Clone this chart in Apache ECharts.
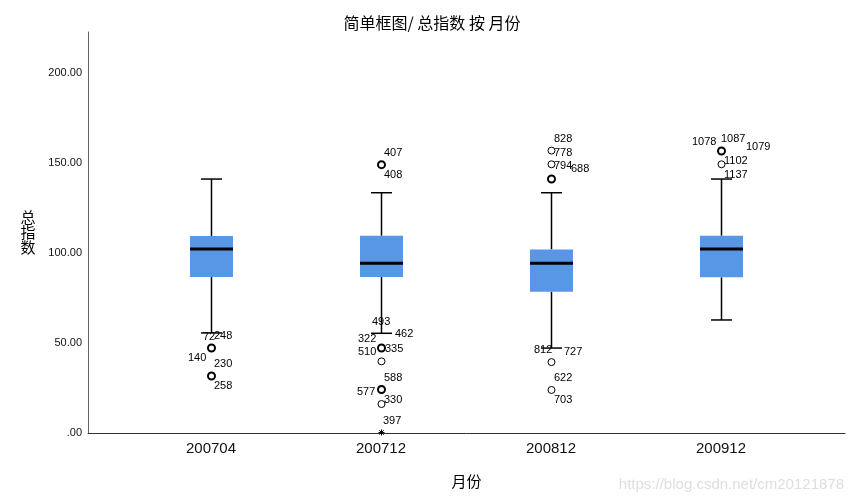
<!DOCTYPE html>
<html>
<head>
<meta charset="utf-8">
<script src="https://cdn.jsdelivr.net/npm/echarts@6/dist/echarts.min.js"></script>
<style>html,body{margin:0;padding:0;background:#fff}#c{width:854px;height:504px}</style>
</head>
<body>
<div id="c"></div>
<script>
// ---- data ----
const categories = ['200704', '200712', '200812', '200912'];
const lowWhisker = [55.6, 55.4, 47.2, 62.8];
const q1 = [86.7, 86.7, 78.5, 86.5];
const median = [102.2, 94.3, 94.3, 102.2];
const q3 = [109.5, 109.6, 102.0, 109.6];
const highWhisker = [141.1, 133.5, 133.5, 141.1];
// outliers: [category index, value, multiple cases (1) or single (0)]
const outliers = [
  [0, 47.2, 1], [0, 31.7, 1],
  [1, 149.1, 1], [1, 47.2, 1], [1, 39.8, 0], [1, 24.2, 1], [1, 16.1, 0],
  [2, 156.9, 0], [2, 149.3, 0], [2, 141.1, 1], [2, 39.4, 0], [2, 23.9, 0],
  [3, 156.7, 1], [3, 149.3, 0]
];
// extreme values (asterisk)
const extremes = [[1, 0.3]];
// case labels: anchor category, anchor value, text
const labelCats = [0,0,0,0,0, 1,1,1,1,1,1,1,1,1,1,1, 2,2,2,2,2,2,2,2, 3,3,3,3,3];
const labelValues = [55.6,55.6,47.2,47.2,31.7, 149.1,149.1,55.4,55.4,47.2,47.2,47.2,24.2,24.2,16.1,0.3,
  156.9,156.9,149.3,149.3,47.2,47.2,39.4,23.9, 156.7,156.7,156.7,149.3,149.3];
const labelTexts = ['72','248','140','230','258', '407','408','493','462','322','335','510','588','577','330','397',
  '828','778','794','688','812','727','622','703', '1078','1087','1079','1102','1137'];
const yTicks = [0, 50, 100, 150, 200];

// ---- layout (pixel offsets of case labels) ----
const labelOffsets = [[-8,4],[3,3],[-23,10],[3,16],[3,10],
  [3,-12],[3,10],[-9,-11],[14,1],[-23,-9],[4,1],[-23,4],[3,-11],[-24,3],[3,-4],[2,-11],
  [3,-12],[3,2],[3,2],[20,5],[-17,2],[13,4],[3,16],[3,10],
  [-29,-9],[0,-12],[25,-4],[3,-3],[3,11]];

const chart = echarts.init(document.getElementById('c'), null, {renderer: 'canvas'});
const FONT = 'Liberation Sans, Arial, sans-serif';
const CJK = 'Noto Sans CJK SC, sans-serif';
const BOX_COLOR = '#5897e5';

const boxData = categories.map((c, i) => [i, lowWhisker[i], q1[i], median[i], q3[i], highWhisker[i]]);

const option = {
  animation: false,
  backgroundColor: '#fff',
  title: {
    text: '简单框图/ 总指数 按 月份',
    left: 427, top: 10, textAlign: 'center',
    textStyle: {fontFamily: CJK, fontSize: 16, fontWeight: 'normal', color: '#000'}
  },
  grid: {left: 88, right: 9, top: 32, bottom: 71},
  xAxis: {
    type: 'value', min: -0.7235, max: 3.7294,
    splitLine: {show: false},
    axisLine: {show: true, onZero: false, lineStyle: {color: '#333', width: 1}},
    axisTick: {show: false},
    axisLabel: {customValues: [0, 1, 2, 3], formatter: v => categories[Math.round(v)], fontFamily: FONT, fontSize: 15, color: '#111', margin: 8},
    name: '月份', nameLocation: 'middle', nameGap: 41,
    nameTextStyle: {fontFamily: CJK, fontSize: 15, color: '#000'}
  },
  yAxis: {
    type: 'value', min: 0, max: 222.8,
    splitLine: {show: false},
    axisLine: {show: true, onZero: false, lineStyle: {color: '#666', width: 1}},
    axisTick: {show: false},
    axisLabel: {customValues: yTicks, formatter: v => v === 0 ? '.00' : v.toFixed(2), fontFamily: FONT, fontSize: 11, color: '#111', margin: 6},
    name: '总\n指\n数', nameLocation: 'middle', nameRotate: 0, nameGap: 60,
    nameTextStyle: {fontFamily: CJK, fontSize: 15, color: '#000', align: 'center', verticalAlign: 'middle', lineHeight: 15}
  },
  graphic: [{
    type: 'text', right: 10, top: 477,
    style: {text: 'https://blog.csdn.net/cm20121878', fontFamily: FONT, fontSize: 15, fill: '#dedede'}
  }],
  series: [
    {
      type: 'custom',
      data: boxData,
      renderItem: function (params, api) {
        const i = api.value(0);
        const pLow = api.coord([i, api.value(1)]);
        const pQ1 = api.coord([i, api.value(2)]);
        const pMed = api.coord([i, api.value(3)]);
        const pQ3 = api.coord([i, api.value(4)]);
        const pHigh = api.coord([i, api.value(5)]);
        const cx = Math.round(pQ1[0]) + 0.5;
        const bw = 43, cw = 21;
        const ls = {stroke: '#000', lineWidth: 1.5};
        return {
          type: 'group',
          children: [
            {type: 'line', shape: {x1: cx, y1: pLow[1], x2: cx, y2: pQ1[1]}, style: ls},
            {type: 'line', shape: {x1: cx, y1: pQ3[1], x2: cx, y2: pHigh[1]}, style: ls},
            {type: 'line', shape: {x1: cx - cw / 2, y1: pLow[1], x2: cx + cw / 2, y2: pLow[1]}, style: ls},
            {type: 'line', shape: {x1: cx - cw / 2, y1: pHigh[1], x2: cx + cw / 2, y2: pHigh[1]}, style: ls},
            {type: 'rect', shape: {x: cx - bw / 2, y: pQ3[1], width: bw, height: pQ1[1] - pQ3[1]}, style: {fill: BOX_COLOR, stroke: null}},
            {type: 'line', shape: {x1: cx - bw / 2, y1: pMed[1], x2: cx + bw / 2, y2: pMed[1]}, style: {stroke: '#000', lineWidth: 3}}
          ]
        };
      }
    },
    {
      type: 'custom',
      data: outliers,
      renderItem: function (params, api) {
        const p = api.coord([api.value(0), api.value(1)]);
        const bold = api.value(2) === 1;
        return {type: 'circle', shape: {cx: p[0] + 0.5, cy: p[1], r: 3.5}, style: {fill: '#fff', stroke: '#000', lineWidth: bold ? 2 : 1}};
      }
    },
    {
      type: 'custom',
      data: extremes,
      renderItem: function (params, api) {
        const p = api.coord([api.value(0), api.value(1)]);
        const x = p[0] + 0.5, y = p[1], r = 3;
        const st = {stroke: '#000', lineWidth: 1};
        return {type: 'group', children: [
          {type: 'line', shape: {x1: x - r, y1: y, x2: x + r, y2: y}, style: st},
          {type: 'line', shape: {x1: x, y1: y - r, x2: x, y2: y + r}, style: st},
          {type: 'line', shape: {x1: x - 2.2, y1: y - 2.2, x2: x + 2.2, y2: y + 2.2}, style: st},
          {type: 'line', shape: {x1: x - 2.2, y1: y + 2.2, x2: x + 2.2, y2: y - 2.2}, style: st}
        ]};
      }
    },
    {
      type: 'custom',
      data: labelCats.map((c, k) => [c, labelValues[k]]),
      renderItem: function (params, api) {
        const k = params.dataIndex;
        const p = api.coord([api.value(0), api.value(1)]);
        const off = labelOffsets[k];
        return {type: 'text', x: p[0] + off[0], y: p[1] + off[1],
          style: {text: labelTexts[k], fontFamily: FONT, fontSize: 11, fill: '#000', align: 'left', verticalAlign: 'middle'}};
      }
    }
  ]
};
chart.setOption(option);
</script>
</body>
</html>
